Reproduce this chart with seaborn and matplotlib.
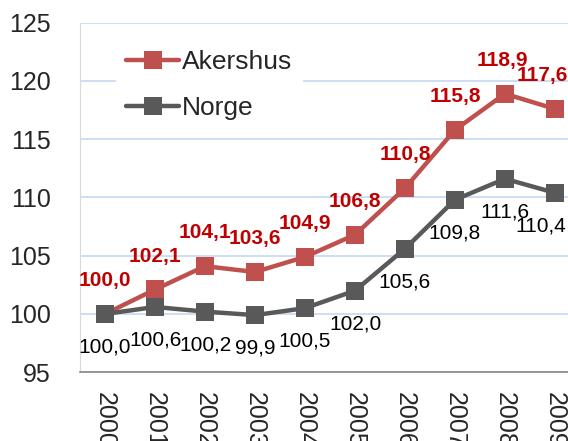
import pandas as pd
import seaborn as sns
import matplotlib.pyplot as plt

YEARS = ["2000", "2001", "2002", "2003", "2004", "2005", "2006", "2007", "2008", "2009"]
AKERSHUS = [100.0, 102.1, 104.1, 103.6, 104.9, 106.8, 110.8, 115.8, 118.9, 117.6]
NORGE = [100.0, 100.6, 100.2, 99.9, 100.5, 102.0, 105.6, 109.8, 111.6, 110.4]
COLORS = {"Akershus": "#c0504d", "Norge": "#595959"}


def fmt(v):
    return f"{v:.1f}".replace(".", ",")


def main():
    sns.set_style("white")
    plt.rcParams["font.family"] = ["Liberation Sans", "DejaVu Sans"]

    df = pd.DataFrame({
        "x": list(range(len(YEARS))) * 2,
        "value": AKERSHUS + NORGE,
        "region": ["Akershus"] * len(YEARS) + ["Norge"] * len(YEARS),
    })

    fig = plt.figure(figsize=(5.68, 4.41), dpi=100)
    ax = fig.add_axes([0.141, 0.156, 0.880, 0.7925])

    sns.lineplot(data=df, x="x", y="value", hue="region", hue_order=["Akershus", "Norge"],
                 palette=COLORS, style="region", markers={"Akershus": "s", "Norge": "s"},
                 dashes=False, linewidth=3.2, markersize=13, markeredgewidth=0, ax=ax,
                 legend=False)

    # data labels
    for i, v in enumerate(AKERSHUS):
        dx = 0
        if i == 8:
            dx = -2
        if i == 9:
            dx = -9
        ax.annotate(fmt(v), (i, v), xytext=(dx, 24), textcoords="offset points",
                    ha="center", va="center", color="#c00000", fontweight="bold", fontsize=15)
    for i, v in enumerate(NORGE):
        dx = 0
        if i == 9:
            dx = -10
        ax.annotate(fmt(v), (i, v), xytext=(dx, -24), textcoords="offset points",
                    ha="center", va="center", color="black", fontsize=15)

    ax.set_xlim(-0.5, 9.5)
    ax.set_ylim(95, 125)
    ax.set_yticks(range(95, 126, 5))
    ax.set_xticks(range(len(YEARS)))
    ax.set_xticklabels(YEARS, rotation=270, fontsize=18)
    ax.set_xticks([i - 0.5 for i in range(len(YEARS) + 1)], minor=True)
    ax.tick_params(axis="x", which="major", length=0, pad=14)
    ax.tick_params(axis="x", which="minor", length=5, color="#868686", width=1, direction="out")
    ax.tick_params(axis="y", length=7, color="#d9d9d9", labelsize=18, pad=14, direction="out")
    ax.yaxis.grid(True, color="#c6d9f1", linewidth=1.2)
    ax.set_axisbelow(True)
    ax.set_xlabel("")
    ax.set_ylabel("")

    for side in ["top", "right"]:
        ax.spines[side].set_visible(False)
    ax.spines["left"].set_color("#d9d9d9")
    ax.spines["bottom"].set_color("#868686")
    ax.spines["bottom"].set_linewidth(1.2)

    handles = [plt.Line2D([], [], color=COLORS[k], marker="s", markersize=13,
                          markeredgewidth=0, linewidth=3.2) for k in COLORS]
    leg = ax.legend(handles, list(COLORS), loc="upper left", bbox_to_anchor=(0.045, 0.99),
                    fontsize=19, frameon=True, handlelength=2.0, handletextpad=0.1,
                    labelspacing=0.85, borderpad=0.4)
    leg.get_frame().set_facecolor("white")
    leg.get_frame().set_edgecolor("none")
    leg.get_frame().set_alpha(1)

    plt.savefig("out.png", dpi=100)
    plt.close()


if __name__ == "__main__":
    main()
